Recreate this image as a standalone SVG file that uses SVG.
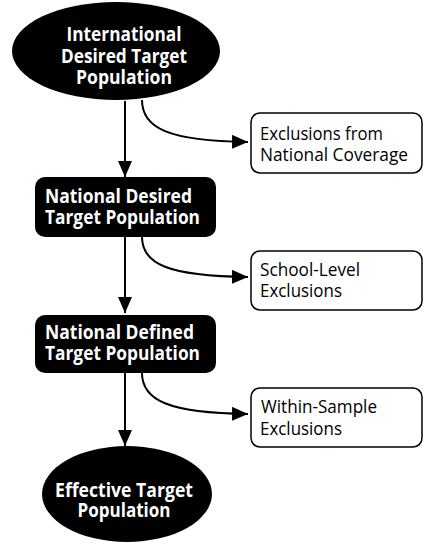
<svg xmlns="http://www.w3.org/2000/svg" width="423" height="543" viewBox="0 0 423 543">
<style>
.dark{fill:#000;}
.box{fill:#fff;stroke:#000;stroke-width:1.5;}
.bt{font-family:"Open Sans","Liberation Sans",Arial,sans-serif;font-weight:bold;font-size:19px;fill:#fff;}
.c{text-anchor:middle;}
.rt{font-family:"Open Sans","Liberation Sans",Arial,sans-serif;font-size:18.5px;fill:#000;}
.ln{fill:none;stroke:#000;stroke-width:2;}
</style>
<defs>
<marker id="ah" markerUnits="userSpaceOnUse" markerWidth="18" markerHeight="14" refX="16" refY="7" orient="auto">
<path d="M0,0 L16,7 L0,14 Z" fill="#000"/>
</marker>
</defs>
<g id="connectors">
<path class="ln" d="M125,101 L125,177" marker-end="url(#ah)"/>
<path class="ln" d="M142,100 C142,128 168,141 248,142" marker-end="url(#ah)"/>
<path class="ln" d="M125,237 L125,313" marker-end="url(#ah)"/>
<path class="ln" d="M142,237 C142,264 168,276 248,277" marker-end="url(#ah)"/>
<path class="ln" d="M125,373 L125,446" marker-end="url(#ah)"/>
<path class="ln" d="M142,373 C142,400 168,413 248,414" marker-end="url(#ah)"/>
</g>
<g id="international">
<ellipse class="dark" cx="116" cy="51" rx="104" ry="49"/>
<text class="bt c" x="124" y="41" textLength="115" lengthAdjust="spacingAndGlyphs">International</text>
<text class="bt c" x="124" y="63" textLength="126" lengthAdjust="spacingAndGlyphs">Desired Target</text>
<text class="bt c" x="124" y="84" textLength="96" lengthAdjust="spacingAndGlyphs">Population</text>
</g>
<g id="exclusions-national">
<rect class="box" x="251" y="113" width="171" height="60" rx="9"/>
<text class="rt" x="260" y="140" textLength="123" lengthAdjust="spacingAndGlyphs">Exclusions from</text>
<text class="rt" x="260" y="161" textLength="148" lengthAdjust="spacingAndGlyphs">National Coverage</text>
</g>
<g id="national-desired">
<rect class="dark" x="35" y="177" width="181" height="60" rx="10"/>
<text class="bt" x="45" y="203" textLength="147" lengthAdjust="spacingAndGlyphs">National Desired</text>
<text class="bt" x="45" y="224" textLength="155" lengthAdjust="spacingAndGlyphs">Target Population</text>
</g>
<g id="school-level">
<rect class="box" x="251" y="251" width="171" height="59" rx="9"/>
<text class="rt" x="260" y="276" textLength="100" lengthAdjust="spacingAndGlyphs">School-Level</text>
<text class="rt" x="260" y="297" textLength="82" lengthAdjust="spacingAndGlyphs">Exclusions</text>
</g>
<g id="national-defined">
<rect class="dark" x="35" y="315" width="181" height="58" rx="10"/>
<text class="bt" x="45" y="339" textLength="149" lengthAdjust="spacingAndGlyphs">National Defined</text>
<text class="bt" x="45" y="360" textLength="155" lengthAdjust="spacingAndGlyphs">Target Population</text>
</g>
<g id="within-sample">
<rect class="box" x="251" y="388" width="171" height="59" rx="9"/>
<text class="rt" x="261" y="413" textLength="116" lengthAdjust="spacingAndGlyphs">Within-Sample</text>
<text class="rt" x="260" y="435" textLength="82" lengthAdjust="spacingAndGlyphs">Exclusions</text>
</g>
<g id="effective">
<ellipse class="dark" cx="127" cy="494" rx="85" ry="48"/>
<text class="bt c" x="124" y="497" textLength="138" lengthAdjust="spacingAndGlyphs">Effective Target</text>
<text class="bt c" x="124" y="517" textLength="93" lengthAdjust="spacingAndGlyphs">Population</text>
</g>
</svg>
